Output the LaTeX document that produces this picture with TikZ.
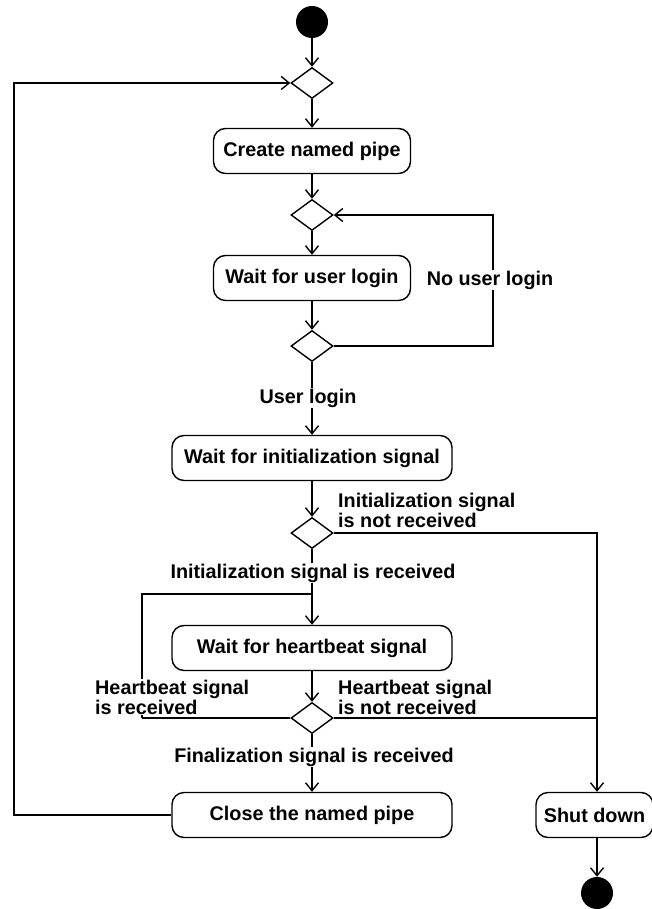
\documentclass[tikz,border=0pt]{standalone}
\usepackage{fontspec}
\setmainfont{Liberation Sans}
\usetikzlibrary{shapes.geometric,arrows.meta}

\begin{document}
\begin{tikzpicture}[x=1pt,y=-1pt,
  font=\fontsize{19.8}{20}\selectfont\bfseries,
  action/.style={draw, line width=1.4pt, rounded corners=12pt, minimum height=45pt, inner sep=0pt},
  decision/.style={draw, diamond, line width=1.4pt, minimum width=42pt, minimum height=31pt, inner sep=0pt},
  terminal/.style={circle, fill=black, minimum size=32pt, inner sep=0pt},
  guard/.style={fill=white, inner sep=1pt, align=left},
  flow/.style={line width=1.4pt, -{Straight Barb[length=8pt,width=13pt,line width=1.4pt]}},
  link/.style={line width=1.4pt}]
  \useasboundingbox (0,0) rectangle (652,909);

  % --------------------
  % Activities
  % --------------------
  \node[terminal] (start) at (312,22) {};
  \node[decision] (merge) at (312,83) {};
  \node[action, minimum width=197pt] (create) at (312,151) {Create named pipe};
  \node[decision] (loginmerge) at (312,215) {};
  \node[action, minimum width=197pt] (waitlogin) at (312,278) {Wait for user login};
  \node[decision] (logincheck) at (312,346) {};
  \node[action, minimum width=280pt] (waitinit) at (312,458) {Wait for initialization signal};
  \node[decision] (initcheck) at (312,533) {};
  \node[action, minimum width=280pt] (waitbeat) at (312,648) {Wait for heartbeat signal};
  \node[decision] (beatcheck) at (312,718) {};
  \node[action, minimum width=280pt] (closepipe) at (312,815) {Close the named pipe};
  \node[action, minimum width=117pt] (shutdown) at (594.5,815) {Shut down};
  \node[terminal] (stop) at (597,893) {};

  % helper points for the loops
  \coordinate (outer) at (14,815);
  \coordinate (loginright) at (493,280);
  \coordinate (beatleft) at (142,594);
  \coordinate (beatjoin) at (312,594);
  \coordinate (rightrail) at (597,533);

  % --------------------
  % Flows
  % --------------------
  \draw[flow] (start) -- (merge);
  \draw[flow] (merge) -- (create);
  \draw[flow] (create) -- (loginmerge);
  \draw[flow] (loginmerge) -- (waitlogin);
  \draw[flow] (waitlogin) -- (logincheck);
  \draw[flow] (logincheck.east) -| (loginright) |- (loginmerge.east);
  \draw[flow] (logincheck) -- (waitinit);
  \draw[flow] (waitinit) -- (initcheck);
  \draw[flow] (initcheck) -- (waitbeat);
  \draw[flow] (initcheck.east) -- (rightrail) -- (rightrail |- shutdown.north);
  \draw[flow] (waitbeat) -- (beatcheck);
  \draw[link] (beatcheck.west -| beatleft) -- (beatleft) -- (beatjoin);
  \draw[link] (beatcheck.east) -- (beatcheck.east -| rightrail);
  \draw[flow] (beatcheck) -- (closepipe);
  \draw[flow] (closepipe.west) -- (outer) |- (merge.west);
  \draw[flow] (stop |- shutdown.south) -- (stop);

  % --------------------
  % Guards
  % --------------------
  \node[guard] (nologin) at (490,280) {No user login};
  \node[guard] (login) at (308,398) {User login};
  \node[guard, anchor=west] (initno) at (337,510) {Initialization signal\\is not received};
  \node[guard] (inityes) at (313,573) {Initialization signal is received};
  \node[guard, anchor=west] (beatyes) at (94,697) {Heartbeat signal\\is received};
  \node[guard, anchor=west, fill=none] (beatno) at (337,697) {Heartbeat signal\\is not received};
  \node[guard] (finyes) at (314,757) {Finalization signal is received};

  % bottom of the heartbeat loop, drawn over its guard
  \draw[link] (beatcheck.west) -- (beatcheck.west -| beatleft);
\end{tikzpicture}
\end{document}
